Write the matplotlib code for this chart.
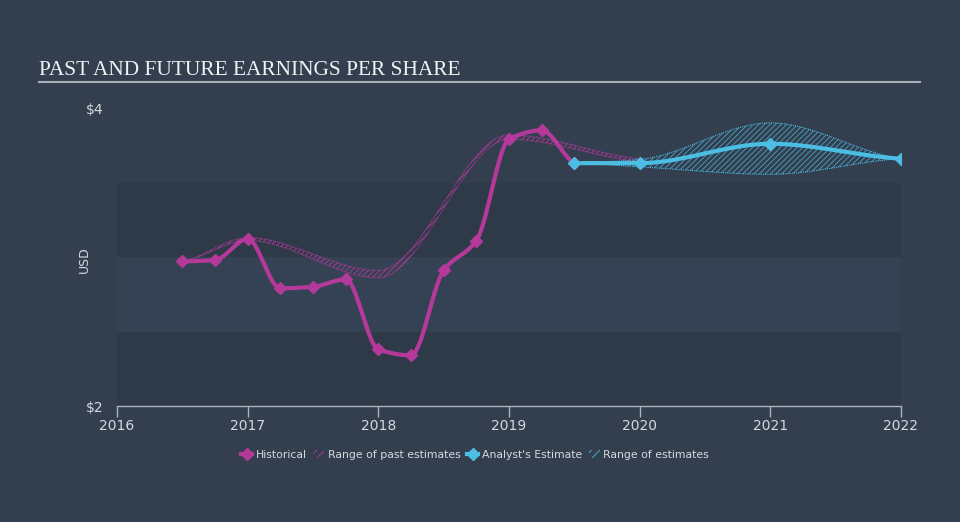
import numpy as np
import matplotlib
matplotlib.use("Agg")
import matplotlib.pyplot as plt
from matplotlib.lines import Line2D
from matplotlib.patches import Patch

# ---- data ----
hist_x = [2016.5, 2016.75, 2017.0, 2017.25, 2017.5, 2017.75, 2018.0, 2018.25,
          2018.5, 2018.75, 2019.0, 2019.25, 2019.5]
hist_y = [2.97, 2.98, 3.12, 2.79, 2.80, 2.85, 2.38, 2.34, 2.91, 3.11, 3.79, 3.85, 3.63]

past_x = [2016.5, 2017.0, 2018.0, 2019.0, 2020.0]
past_hi = [2.97, 3.13, 2.91, 3.82, 3.66]
past_lo = [2.97, 3.11, 2.86, 3.79, 3.64]

est_x = [2019.5, 2020.0, 2021.0, 2022.0]
est_y = [3.63, 3.63, 3.76, 3.66]
est_hi = [3.63, 3.655, 3.90, 3.66]
est_lo = [3.63, 3.605, 3.555, 3.66]

years = [2016, 2017, 2018, 2019, 2020, 2021, 2022]
ytick_vals = [2, 4]
ytick_labels = ["$2", "$4"]

BG = "#333f4f"
BAND = "#2e3a48"
MAG = "#b5399b"
CYAN = "#4cbde3"
TXT = "#d5d9de"


def smooth(x, y, n=40):
    """Monotone cubic (Fritsch-Carlson) interpolation for drawing."""
    x = np.asarray(x, float)
    y = np.asarray(y, float)
    h = np.diff(x)
    d = np.diff(y) / h
    m = np.zeros_like(y)
    for i in range(1, len(x) - 1):
        if d[i - 1] * d[i] <= 0:
            m[i] = 0.0
        else:
            w1 = 2 * h[i] + h[i - 1]
            w2 = h[i] + 2 * h[i - 1]
            m[i] = (w1 + w2) / (w1 / d[i - 1] + w2 / d[i])
    m[0] = d[0] * 0.5
    m[-1] = d[-1] * 0.5
    xs, ys = [], []
    for i in range(len(x) - 1):
        t = np.linspace(0, 1, n, endpoint=(i == len(x) - 2))
        h00 = 2 * t**3 - 3 * t**2 + 1
        h10 = t**3 - 2 * t**2 + t
        h01 = -2 * t**3 + 3 * t**2
        h11 = t**3 - t**2
        xs.append(x[i] + t * h[i])
        ys.append(h00 * y[i] + h10 * h[i] * m[i] + h01 * y[i + 1] + h11 * h[i] * m[i + 1])
    return np.concatenate(xs), np.concatenate(ys)


plt.rcParams["hatch.linewidth"] = 0.6
fig = plt.figure(figsize=(9.6, 5.22), dpi=100, facecolor=BG)
ax = fig.add_axes([117 / 960, 1 - 406 / 522, (901 - 117) / 960, (406 - 108) / 522])
ax.set_facecolor(BG)
ax.set_xlim(2016, 2022)
ax.set_ylim(2, 4)

ax.axhspan(2.0, 2.5, color=BAND, lw=0, zorder=0)
ax.axhspan(3.0, 3.5, color=BAND, lw=0, zorder=0)
ax.axhspan(2.5, 3.0, color="#344253", lw=0, zorder=0)

# past estimate range
px, ph = smooth(past_x, past_hi)
_, pl = smooth(past_x, past_lo)
ax.fill_between(px, pl, ph, facecolor="none", edgecolor=MAG, hatch="//////", lw=0, zorder=2)
ax.plot(px, ph, color=MAG, lw=0.8, ls=(0, (1, 1)), zorder=2)
ax.plot(px, pl, color=MAG, lw=0.8, ls=(0, (1, 1)), zorder=2)

# estimate range
ex, eh = smooth(est_x, est_hi)
_, el = smooth(est_x, est_lo)
ax.fill_between(ex, el, eh, facecolor="none", edgecolor=CYAN, hatch="//////", lw=0, zorder=2, alpha=0.8)
ax.plot(ex, eh, color=CYAN, lw=0.8, ls=(0, (1, 1)), zorder=2)
ax.plot(ex, el, color=CYAN, lw=0.8, ls=(0, (1, 1)), zorder=2)

# historical
hx, hy = smooth(hist_x, hist_y)
ax.plot(hx, hy, color=MAG, lw=3, zorder=4, solid_capstyle="round")
ax.plot(hist_x, hist_y, ls="none", marker="D", ms=6, color=MAG, zorder=5)

# estimate
sx, sy = smooth(est_x, est_y)
ax.plot(sx, sy, color=CYAN, lw=3, zorder=4, solid_capstyle="round")
ax.plot(est_x, est_y, ls="none", marker="D", ms=6, color=CYAN, zorder=5)

for s in ["top", "right", "left"]:
    ax.spines[s].set_visible(False)
ax.spines["bottom"].set_color("#aab4c0")
ax.spines["bottom"].set_linewidth(1)
ax.set_xticks(years)
ax.set_xticklabels([str(y) for y in years])
ax.tick_params(axis="x", colors="#aab4c0", length=8, width=1, labelcolor=TXT, labelsize=10, pad=1)
ax.set_yticks(ytick_vals)
ax.set_yticklabels(ytick_labels)
ax.tick_params(axis="y", length=0, labelcolor=TXT, labelsize=10, pad=10)
ax.set_ylabel("USD", color=TXT, fontsize=9, labelpad=8)
ax.yaxis.set_label_coords(-0.033, 0.49)

# title
fig.text(39 / 960, 1 - 75 / 522, "PAST AND FUTURE EARNINGS PER SHARE", family="Liberation Serif",
         fontsize=15.4, color="#f0f2f4", va="baseline", ha="left")
fig.add_artist(Line2D([39 / 960, 920 / 960], [1 - 82 / 522, 1 - 82 / 522], color="#a8aeb6", lw=1.5))

# legend
handles = [
    Line2D([], [], color=MAG, lw=3, marker="D", ms=6),
    Patch(facecolor="none", edgecolor=MAG, hatch="////", lw=0),
    Line2D([], [], color=CYAN, lw=3, marker="D", ms=6),
    Patch(facecolor="none", edgecolor=CYAN, hatch="////", lw=0),
]
labels = ["Historical", "Range of past estimates", "Analyst's Estimate", "Range of estimates"]
leg = fig.legend(handles, labels, ncol=4, loc="center", bbox_to_anchor=(0.495, 1 - 455 / 522),
                 frameon=False, fontsize=7.8, labelcolor=TXT, handlelength=1.0, handletextpad=0.35,
                 columnspacing=0.6, handleheight=0.8)

fig.savefig("out.png", dpi=100, facecolor=BG)
